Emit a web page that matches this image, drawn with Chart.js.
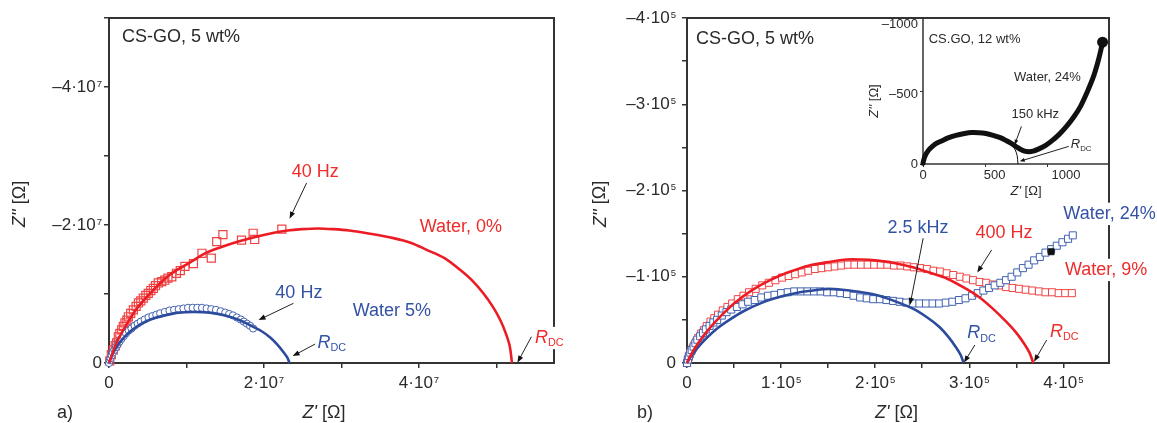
<!DOCTYPE html>
<html><head><meta charset="utf-8">
<script src="https://cdn.jsdelivr.net/npm/chart.js@4/dist/chart.umd.min.js"></script>
<style>
html,body{margin:0;padding:0;background:#fff;width:1157px;height:423px;overflow:hidden}
canvas{position:absolute;top:0}
#ca{left:0}
#cb{left:578px}
#ci{left:860px}
</style></head><body>
<canvas id="ca" width="578" height="423"></canvas>
<canvas id="cb" width="579" height="423"></canvas>
<canvas id="ci" width="260" height="210"></canvas>
<script>
// ---------- DATA (Z' and -Z'') ----------
// Panel a: units of 10^7 Ohm
const aRedLineX = [0, 0.03, 0.08, 0.16, 0.27, 0.38, 0.59, 0.81, 1.02, 1.24, 1.45, 1.67, 1.9, 2.1, 2.3, 2.49, 2.7, 2.89, 3.1, 3.33, 3.67, 3.9, 4.1, 4.33, 4.53, 4.7, 4.83, 4.95, 5.05, 5.12, 5.17, 5.2];
const aRedLineY = [0, 0.09, 0.25, 0.43, 0.64, 0.82, 1.08, 1.30, 1.44, 1.59, 1.68, 1.76, 1.83, 1.88, 1.92, 1.94, 1.95, 1.94, 1.92, 1.88, 1.81, 1.74, 1.64, 1.52, 1.35, 1.18, 1.01, 0.82, 0.62, 0.43, 0.25, 0];
const aRedSqX = [0.01, 0.03, 0.056, 0.08, 0.099, 0.12, 0.14, 0.164, 0.185, 0.206, 0.23, 0.25, 0.28, 0.314, 0.35, 0.38, 0.41, 0.443, 0.475, 0.507, 0.54, 0.572, 0.60, 0.636, 0.68, 0.72, 0.76, 0.81, 0.87, 0.92, 0.98, 1.09, 1.2, 1.32, 1.39, 1.47, 1.71, 1.86, 1.88, 2.23];
const aRedSqY = [0.03, 0.12, 0.19, 0.25, 0.29, 0.38, 0.43, 0.48, 0.53, 0.58, 0.62, 0.67, 0.72, 0.77, 0.82, 0.87, 0.90, 0.94, 0.98, 1.01, 1.05, 1.08, 1.12, 1.16, 1.18, 1.2, 1.23, 1.25, 1.30, 1.34, 1.40, 1.44, 1.59, 1.52, 1.76, 1.86, 1.78, 1.88, 1.79, 1.94];
const aBlueLineX = [0, 0.02, 0.06, 0.12, 0.2, 0.3, 0.42, 0.56, 0.72, 0.9, 1.1, 1.3, 1.5, 1.69, 1.85, 1.97, 2.08, 2.17, 2.25, 2.3, 2.33];
const aBlueLineY = [0, 0.06, 0.16, 0.27, 0.38, 0.48, 0.57, 0.64, 0.69, 0.73, 0.74, 0.73, 0.69, 0.62, 0.53, 0.46, 0.37, 0.27, 0.16, 0.08, 0];
const aBlueCircX = [0, 0.01, 0.02, 0.035, 0.05, 0.07, 0.09, 0.11, 0.135, 0.16, 0.19, 0.22, 0.255, 0.29, 0.33, 0.37, 0.41, 0.46, 0.51, 0.56, 0.61, 0.66, 0.72, 0.78, 0.84, 0.9, 0.96, 1.02, 1.08, 1.14, 1.2, 1.26, 1.32, 1.38, 1.44, 1.5, 1.55, 1.6, 1.65, 1.7, 1.74, 1.78, 1.82, 1.86];
const aBlueCircY = [0, 0.04, 0.07, 0.11, 0.15, 0.19, 0.23, 0.27, 0.31, 0.35, 0.39, 0.43, 0.47, 0.5, 0.54, 0.57, 0.6, 0.63, 0.66, 0.68, 0.70, 0.72, 0.74, 0.76, 0.77, 0.78, 0.79, 0.8, 0.8, 0.8, 0.8, 0.79, 0.78, 0.77, 0.75, 0.73, 0.71, 0.69, 0.66, 0.63, 0.6, 0.57, 0.54, 0.5];

// Panel b: units of 10^5 Ohm
const bRedSqX = [0, 0.01, 0.02, 0.03, 0.045, 0.06, 0.08, 0.10, 0.12, 0.15, 0.18, 0.21, 0.25, 0.29, 0.33, 0.38, 0.43, 0.48, 0.54, 0.60, 0.66, 0.73, 0.80, 0.87, 0.94, 1.01, 1.08, 1.15, 1.22, 1.29, 1.36, 1.43, 1.50, 1.57, 1.64, 1.71, 1.78, 1.85, 1.92, 1.99, 2.06, 2.13, 2.20, 2.27, 2.34, 2.41, 2.48, 2.55, 2.62, 2.69, 2.76, 2.83, 2.90, 2.97, 3.04, 3.11, 3.18, 3.25, 3.32, 3.39, 3.46, 3.53, 3.60, 3.67, 3.74, 3.81, 3.88, 3.95, 4.02, 4.09];
const bRedSqY = [0, 0.04, 0.07, 0.10, 0.14, 0.17, 0.21, 0.25, 0.29, 0.34, 0.38, 0.43, 0.48, 0.52, 0.56, 0.61, 0.65, 0.69, 0.74, 0.78, 0.82, 0.86, 0.90, 0.93, 0.96, 0.99, 1.01, 1.03, 1.05, 1.07, 1.09, 1.10, 1.11, 1.12, 1.13, 1.14, 1.14, 1.14, 1.14, 1.14, 1.14, 1.14, 1.13, 1.13, 1.12, 1.11, 1.10, 1.09, 1.07, 1.06, 1.04, 1.02, 1.00, 0.98, 0.96, 0.94, 0.93, 0.91, 0.90, 0.88, 0.87, 0.86, 0.85, 0.84, 0.83, 0.82, 0.82, 0.81, 0.81, 0.81];
const bBlueSqX = [0, 0.01, 0.02, 0.035, 0.05, 0.07, 0.09, 0.11, 0.14, 0.17, 0.20, 0.24, 0.28, 0.32, 0.37, 0.42, 0.47, 0.53, 0.59, 0.65, 0.72, 0.79, 0.86, 0.93, 1.00, 1.07, 1.14, 1.21, 1.28, 1.35, 1.42, 1.49, 1.56, 1.63, 1.70, 1.77, 1.84, 1.91, 1.98, 2.05, 2.12, 2.19, 2.26, 2.33, 2.40, 2.47, 2.54, 2.61, 2.68, 2.75, 2.82, 2.89, 2.96, 3.03, 3.09, 3.15, 3.21, 3.27, 3.33, 3.39, 3.45, 3.51, 3.57, 3.63, 3.69, 3.75, 3.81, 3.87, 3.93, 3.99, 4.05, 4.10];
const bBlueSqY = [0, 0.04, 0.08, 0.12, 0.15, 0.19, 0.23, 0.27, 0.31, 0.35, 0.39, 0.43, 0.47, 0.50, 0.55, 0.59, 0.62, 0.65, 0.68, 0.71, 0.73, 0.76, 0.78, 0.79, 0.81, 0.82, 0.83, 0.83, 0.83, 0.83, 0.83, 0.82, 0.82, 0.81, 0.80, 0.78, 0.76, 0.75, 0.74, 0.74, 0.73, 0.72, 0.71, 0.70, 0.69, 0.69, 0.69, 0.69, 0.69, 0.70, 0.71, 0.73, 0.75, 0.78, 0.81, 0.84, 0.87, 0.90, 0.93, 0.96, 1.00, 1.05, 1.10, 1.14, 1.19, 1.23, 1.28, 1.32, 1.36, 1.40, 1.44, 1.48];
const bRedLineX = [0, 0.02, 0.05, 0.1, 0.2, 0.32, 0.5, 0.7, 0.9, 1.1, 1.3, 1.5, 1.7, 1.85, 2.0, 2.2, 2.4, 2.6, 2.76, 2.95, 3.11, 3.25, 3.4, 3.5, 3.58, 3.64, 3.68];
const bRedLineY = [0, 0.05, 0.11, 0.2, 0.35, 0.5, 0.69, 0.85, 0.97, 1.06, 1.13, 1.17, 1.2, 1.2, 1.19, 1.16, 1.11, 1.04, 0.98, 0.87, 0.76, 0.63, 0.47, 0.35, 0.23, 0.12, 0];
const bBlueLineX = [0, 0.02, 0.05, 0.1, 0.2, 0.32, 0.45, 0.6, 0.8, 1.0, 1.2, 1.4, 1.5, 1.65, 1.8, 2.0, 2.2, 2.4, 2.55, 2.68, 2.78, 2.86, 2.91, 2.94];
const bBlueLineY = [0, 0.04, 0.09, 0.16, 0.28, 0.40, 0.50, 0.60, 0.70, 0.77, 0.82, 0.85, 0.86, 0.85, 0.83, 0.79, 0.72, 0.63, 0.53, 0.42, 0.30, 0.18, 0.09, 0];
const bMarkX = [3.87];
const bMarkY = [1.29];

// Inset: Ohm
const iDataX = [0, 8, 20, 40, 60, 90, 130, 180, 230, 290, 340, 390, 440, 490, 540, 580, 620, 650, 680, 710, 740, 770, 810, 860, 900, 950, 1000, 1050, 1100, 1150, 1190, 1220, 1240, 1255];
const iDataY = [5, 40, 70, 100, 120, 145, 165, 188, 205, 218, 225, 224, 218, 205, 188, 168, 145, 125, 105, 92, 88, 92, 108, 135, 165, 210, 265, 330, 410, 520, 620, 720, 800, 870];
const iFitX = [0, 30, 80, 150, 240, 340, 440, 520, 580, 620, 645, 658, 664];
const iFitY = [0, 80, 135, 178, 210, 225, 218, 195, 165, 135, 100, 60, 0];

// Tick labels
const aXTickVals = [0, 2, 4];
const aXTickText = ['0', '2·10^7', '4·10^7'];
const aYTickVals = [0, 2, 4];
const aYTickText = ['0', '–2·10^7', '–4·10^7'];
const bXTickVals = [0, 1, 2, 3, 4];
const bXTickText = ['0', '1·10^5', '2·10^5', '3·10^5', '4·10^5'];
const bYTickVals = [0, 1, 2, 3, 4];
const bYTickText = ['0', '–1·10^5', '–2·10^5', '–3·10^5', '–4·10^5'];
const iXTickVals = [0, 500, 1000];
const iXTickText = ['0', '500', '1000'];
const iYTickVals = [0, 500, 1000];
const iYTickText = ['0', '–500', '–1000'];

// ---------- STYLE ----------
const FONT = '"Liberation Sans", Arial, Helvetica, sans-serif';
const RED = '#ec1c24', RED_PT = '#f04444', RED_TXT = '#ee2c2c';
const BLUE = '#2c4b9d', BLUE_PT = '#4262b0', BLUE_TXT = '#3352a5';
const TXT = '#2a2a2a', AX = '#333333';

const pts = (xs, ys) => xs.map((x, i) => ({x, y: ys[i]}));
const RDC = [{t: 'R', it: true}, {t: 'DC', sub: true}];

function parseTick(s) {
  const p = s.split('^');
  return p.length > 1 ? [{t: p[0]}, {t: p[1], sup: true}] : [{t: s}];
}
function drawRich(ctx, segs, x, y, o) {
  const size = o.size;
  const parts = segs.map(s => {
    const sz = s.sub ? size * 0.6 : s.sup ? size * 0.56 : size;
    const font = (s.it ? 'italic ' : '') + sz.toFixed(1) + 'px ' + FONT;
    ctx.font = font;
    return {s, font, w: ctx.measureText(s.t).width + (s.sup ? 1 : 0),
      dy: s.sub ? size * 0.3 : s.sup ? -size * 0.17 : 0, dx: s.sup ? 1 : 0};
  });
  const total = parts.reduce((a, p) => a + p.w, 0);
  let x0 = o.align === 'right' ? x - total : o.align === 'center' ? x - total / 2 : x;
  if (o.bg) { ctx.fillStyle = o.bg; ctx.fillRect(x0 - 2, y - size * 0.62, total + 4, size * 1.24); }
  ctx.textBaseline = 'middle'; ctx.textAlign = 'left'; ctx.fillStyle = o.color;
  for (const p of parts) { ctx.font = p.font; ctx.fillText(p.s.t, x0 + p.dx, y + p.dy); x0 += p.w; }
}
function arrow(ctx, x1, y1, x2, y2, hl) {
  const a = Math.atan2(y2 - y1, x2 - x1), c = Math.cos(a), s = Math.sin(a);
  ctx.strokeStyle = '#222'; ctx.lineWidth = 1;
  ctx.beginPath(); ctx.moveTo(x1, y1); ctx.lineTo(x2 - hl * 0.7 * c, y2 - hl * 0.7 * s); ctx.stroke();
  ctx.fillStyle = '#111'; ctx.beginPath(); ctx.moveTo(x2, y2);
  ctx.lineTo(x2 - hl * c + hl * 0.38 * s, y2 - hl * s - hl * 0.38 * c);
  ctx.lineTo(x2 - hl * c - hl * 0.38 * s, y2 - hl * s + hl * 0.38 * c);
  ctx.closePath(); ctx.fill();
}

function overlay(sp) {
  return {
    id: 'overlay',
    beforeDatasetsDraw(chart) {
      const {ctx, chartArea: a} = chart;
      ctx.save(); ctx.strokeStyle = AX; ctx.lineWidth = sp.frameW;
      ctx.beginPath();
      if (sp.box) { ctx.rect(a.left, a.top, a.right - a.left, a.bottom - a.top); }
      else { ctx.moveTo(a.left, a.top); ctx.lineTo(a.left, a.bottom); ctx.lineTo(a.right, a.bottom); }
      ctx.stroke(); ctx.restore();
    },
    afterDatasetsDraw(chart) {
      const {ctx, chartArea: a, scales: {x, y}} = chart;
      ctx.save();
      sp.xT.forEach((v, i) => drawRich(ctx, parseTick(sp.xL[i]), x.getPixelForValue(v), a.bottom + sp.xOff, {size: sp.tick, color: TXT, align: 'center'}));
      sp.yT.forEach((v, i) => drawRich(ctx, parseTick(sp.yL[i]), a.left - sp.yOff, y.getPixelForValue(v), {size: sp.tick, color: TXT, align: 'right'}));
      drawRich(ctx, [{t: "Z'", it: true}, {t: ' [Ω]'}], sp.xTitle[0], sp.xTitle[1], {size: sp.title, color: TXT, align: 'center'});
      ctx.save(); ctx.translate(sp.yTitle[0], sp.yTitle[1]); ctx.rotate(-Math.PI / 2);
      drawRich(ctx, [{t: "Z''", it: true}, {t: ' [Ω]'}], 0, 0, {size: sp.title, color: TXT, align: 'center'});
      ctx.restore();
      if (sp.panel) drawRich(ctx, [{t: sp.panel[0]}], sp.panel[1], sp.panel[2], {size: sp.title, color: TXT, align: 'center'});
      sp.notes.forEach(n => drawRich(ctx, n.segs, x.getPixelForValue(n.x), y.getPixelForValue(n.y), {size: n.size || sp.note, color: n.color || TXT, align: n.align || 'left', bg: n.bg}));
      sp.arrows.forEach(r => arrow(ctx, x.getPixelForValue(r[0]), y.getPixelForValue(r[1]), x.getPixelForValue(r[2]), y.getPixelForValue(r[3]), sp.head));
      ctx.restore();
    }
  };
}

function cfg(o) {
  const axis = (min, max, step, fit) => ({
    type: 'linear', min, max,
    ticks: {display: false, stepSize: step, includeBounds: false, autoSkip: false},
    grid: {drawOnChartArea: false, drawTicks: true, tickLength: o.tickLen, color: AX, lineWidth: o.tickW},
    border: {display: false},
    afterFit: fit
  });
  return {
    type: 'scatter',
    data: {datasets: o.datasets},
    options: {
      responsive: false, animation: false, events: [],
      layout: {padding: o.pad},
      plugins: {legend: {display: false}, tooltip: {enabled: false}},
      scales: {
        x: axis(o.x[0], o.x[1], o.x[2], s => { s.height = o.xH; }),
        y: axis(o.y[0], o.y[1], o.y[2], s => { s.width = o.yW; })
      }
    },
    plugins: [overlay(o.sp)]
  };
}
const line = (data, color, w, order) => ({data, showLine: true, borderColor: color, borderWidth: w, pointRadius: 0, tension: 0.3, fill: false, order, clip: false});
const marks = (data, style, r, color, fillc, order, bw) => ({data, showLine: false, pointStyle: style, pointRadius: r, pointBorderWidth: bw || 1, borderWidth: bw || 1, pointBorderColor: color, borderColor: color, pointBackgroundColor: fillc, backgroundColor: fillc, order, clip: false});

// Panel a
new Chart(document.getElementById('ca'), cfg({
  pad: {top: 18, right: 24, left: 0, bottom: 0}, xH: 60, yW: 109,
  x: [0, 5.742, 1], y: [0, 5, 1], tickLen: 5, tickW: 1.5,
  datasets: [
    line(pts(aRedLineX, aRedLineY), RED, 2.6, 0),
    line(pts(aBlueLineX, aBlueLineY), BLUE, 2.6, 0),
    marks(pts(aBlueCircX, aBlueCircY), 'circle', 3.6, BLUE_PT, '#fff', 1),
    marks(pts(aRedSqX, aRedSqY), 'rect', 5.7, RED_PT, 'rgba(255,255,255,0)', 2, 1.2)
  ],
  sp: {
    box: true, frameW: 2, tick: 17, title: 18, note: 18, head: 7,
    xT: aXTickVals, xL: aXTickText, yT: aYTickVals, yL: aYTickText, xOff: 20, yOff: 7,
    xTitle: [324, 413], yTitle: [20, 204], panel: ['a)', 65, 413],
    notes: [
      {segs: [{t: 'CS-GO, 5 wt%'}], x: 0.168, y: 4.72},
      {segs: [{t: '40 Hz'}], x: 2.66, y: 2.77, align: 'center', color: RED_TXT},
      {segs: [{t: 'Water, 0%'}], x: 4.54, y: 1.97, align: 'center', color: RED_TXT},
      {segs: [{t: '40 Hz'}], x: 2.45, y: 1.02, align: 'center', color: BLUE_TXT},
      {segs: [{t: 'Water 5%'}], x: 3.65, y: 0.75, align: 'center', color: BLUE_TXT},
      {segs: RDC, x: 2.69, y: 0.294, color: BLUE_TXT},
      {segs: RDC, x: 5.497, y: 0.362, color: RED_TXT, bg: '#fff'}
    ],
    arrows: [[2.55, 2.61, 2.33, 2.09], [2.38, 0.865, 1.93, 0.623], [2.66, 0.275, 2.37, 0.10], [5.45, 0.38, 5.27, 0.004]]
  }
}));

// Panel b
new Chart(document.getElementById('cb'), cfg({
  pad: {top: 18, right: 48, left: 0, bottom: 0}, xH: 60, yW: 109,
  x: [0, 4.485, 0.5], y: [0, 4, 0.5], tickLen: 5, tickW: 1.5,
  datasets: [
    line(pts(bRedLineX, bRedLineY), RED, 2.6, 0),
    line(pts(bBlueLineX, bBlueLineY), BLUE, 2.6, 0),
    marks(pts(bMarkX, bMarkY), 'rect', 4.2, '#111', '#111', 1),
    marks(pts(bBlueSqX, bBlueSqY), 'rect', 5, BLUE_PT, '#fff', 2),
    marks(pts(bRedSqX, bRedSqY), 'rect', 5, RED_PT, '#fff', 3)
  ],
  sp: {
    box: true, frameW: 2, tick: 17, title: 18, note: 18, head: 7,
    xT: bXTickVals, xL: bXTickText, yT: bYTickVals, yL: bYTickText, xOff: 20, yOff: 11,
    xTitle: [318.5, 413], yTitle: [22.5, 204], panel: ['b)', 67, 413],
    notes: [
      {segs: [{t: 'CS-GO, 5 wt%'}], x: 0.096, y: 3.76},
      {segs: [{t: '2.5 kHz'}], x: 2.455, y: 1.563, align: 'center', color: BLUE_TXT},
      {segs: [{t: '400 Hz'}], x: 3.369, y: 1.505, align: 'center', color: RED_TXT},
      {segs: [{t: 'Water, 24%'}], x: 4.0, y: 1.729, color: BLUE_TXT, bg: '#fff'},
      {segs: [{t: 'Water, 9%'}], x: 4.017, y: 1.079, color: RED_TXT, bg: '#fff'},
      {segs: RDC, x: 2.979, y: 0.345, color: BLUE_TXT},
      {segs: RDC, x: 3.858, y: 0.363, color: RED_TXT}
    ],
    arrows: [[2.51, 1.447, 2.37, 0.673], [3.238, 1.311, 3.085, 1.048], [3.06, 0.209, 2.944, 0.006], [3.823, 0.267, 3.688, 0.015]]
  }
}));

// Inset
new Chart(document.getElementById('ci'), cfg({
  pad: {top: 18, right: 11, left: 0, bottom: 0}, xH: 46, yW: 63,
  x: [0, 1300, 500], y: [0, 1043, 500], tickLen: 3, tickW: 1,
  datasets: [
    line(pts(iFitX, iFitY), '#111', 1, 0),
    Object.assign(line(pts(iDataX, iDataY), '#111', 5, 1), {pointRadius: ctx => ctx.dataIndex === iDataX.length - 1 ? 3 : 0, pointBackgroundColor: '#111', pointBorderColor: '#111', borderCapStyle: 'round'})
  ],
  sp: {
    box: false, frameW: 1.5, tick: 13, title: 13, note: 13, head: 5,
    xT: iXTickVals, xL: iXTickText, yT: iYTickVals, yL: iYTickText, xOff: 11, yOff: 5,
    xTitle: [166, 191.5], yTitle: [14, 101], panel: null,
    notes: [
      {segs: [{t: 'CS.GO, 12 wt%'}], x: 40, y: 888},
      {segs: [{t: 'Water, 24%'}], x: 636, y: 619},
      {segs: [{t: '150 kHz'}], x: 618, y: 352},
      {segs: RDC, x: 1033, y: 138}
    ],
    arrows: [[688, 269, 641, 138], [1019, 126, 676, 19]]
  }
}));
</script>
</body></html>
